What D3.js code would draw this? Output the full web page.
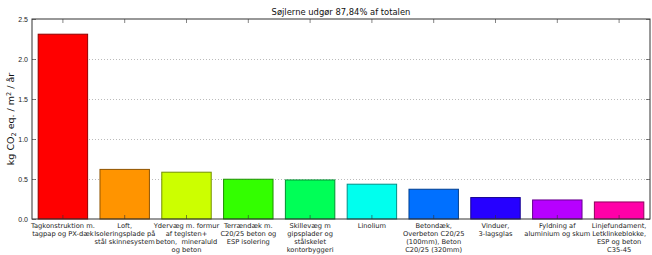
<!DOCTYPE html>
<html>
<head>
<meta charset="utf-8">
<script src="https://cdn.jsdelivr.net/npm/d3@7"></script>
<style>
body { margin: 0; background: #fff; }
svg { font-family: "DejaVu Sans", sans-serif; }
</style>
</head>
<body>
<div id="chart"></div>
<script>
// data
const categories = [
    ["Tagkonstruktion m.", "tagpap og PX-dæk"],
    ["Loft,", "Isoleringsplade på", "stål skinnesystem"],
    ["Ydervæg m. formur", "af teglsten+", "beton,  mineraluld", "og beton"],
    ["Terrændæk m.", "C20/25 beton og", "ESP isolering"],
    ["Skillevæg m", "gipsplader og", "stålskelet", "kontorbyggeri"],
    ["Linolium"],
    ["Betondæk,", "Overbeton C20/25", "(100mm), Beton", "C20/25 (320mm)"],
    ["Vinduer,", "3-lagsglas"],
    ["Fyldning af", "aluminium og skum"],
    ["Linjefundament,", "Letklinkeblokke,", "ESP og beton", "C35-45"]
]
const values = [2.31, 0.62, 0.585, 0.497, 0.488, 0.435, 0.372, 0.268, 0.238, 0.213]
const colors = ["#ff0000", "#ff9400", "#ccff00", "#33ff00", "#00ff57", "#00ffee", "#0070ff", "#2600ff", "#b700ff", "#ff00a8"]
const yTicks = [0, 0.5, 1.0, 1.5, 2.0, 2.5]
const title = "Søjlerne udgør 87,84% af totalen"

const W = 652, H = 255
const margin = { left: 32, top: 19, right: 2, bottom: 36 }
const width = W - margin.left - margin.right,
    height = H - margin.top - margin.bottom

const svg = d3.select("#chart").append("svg")
    .attr("width", W)
    .attr("height", H)

const g = svg.append("g")
    .attr("transform", "translate(" + margin.left + "," + margin.top + ")")

const x = d3.scaleBand()
    .domain(d3.range(values.length))
    .range([0, width])
    .paddingInner(0.2)
    .paddingOuter(0.1)

const y = d3.scaleLinear()
    .domain([0, 2.5])
    .range([height, 0])

// dotted grid
g.selectAll("line.grid")
    .data(yTicks.filter(t => t > 0 && t < 2.5))
    .enter().append("line")
    .attr("class", "grid")
    .attr("x1", 0).attr("x2", width)
    .attr("y1", d => y(d) + 0.5).attr("y2", d => y(d) + 0.5)
    .style("stroke", "#aaa")
    .style("stroke-width", 0.8)
    .style("stroke-dasharray", "1,2")

// bars
g.selectAll("rect.bar")
    .data(values)
    .enter().append("rect")
    .attr("class", "bar")
    .attr("x", (d, i) => x(i))
    .attr("y", d => y(d))
    .attr("width", x.bandwidth())
    .attr("height", d => height - y(d))
    .style("fill", (d, i) => colors[i])
    .style("stroke", (d, i) => d3.color(colors[i]).darker(1.6))
    .style("stroke-width", 1)

// y axis left + right, ticks inward
const yAxis = g.append("g")
    .call(d3.axisLeft(y).tickValues(yTicks).tickFormat(d3.format(".1f")).tickSizeInner(-4).tickSizeOuter(0).tickPadding(4))
yAxis.select(".domain").remove()
yAxis.selectAll("text").style("font-size", "7px").style("fill", "#222")

const yAxisR = g.append("g")
    .attr("transform", "translate(" + width + ",0)")
    .call(d3.axisRight(y).tickValues(yTicks).tickSizeInner(-4).tickSizeOuter(0).tickFormat(""))
yAxisR.select(".domain").remove()

// x ticks top and bottom, inward
const xb = g.append("g")
    .attr("transform", "translate(0," + height + ")")
    .call(d3.axisBottom(x).tickSizeInner(-4).tickSizeOuter(0).tickFormat(""))
xb.select(".domain").remove()
const xt = g.append("g")
    .call(d3.axisTop(x).tickSizeInner(-4).tickSizeOuter(0).tickFormat(""))
xt.select(".domain").remove()
g.selectAll(".tick line").style("stroke", "#333").style("stroke-width", 0.6)

// frame
g.append("rect")
    .attr("x", 0).attr("y", 0)
    .attr("width", width).attr("height", height)
    .style("fill", "none")
    .style("stroke", "#333")
    .style("stroke-width", 1)

// category labels
const labels = g.selectAll("text.cat")
    .data(categories)
    .enter().append("text")
    .attr("class", "cat")
    .attr("text-anchor", "middle")
    .attr("transform", (d, i) => "translate(" + (x(i) + x.bandwidth() / 2) + "," + (height + 9) + ")")
    .style("font-size", "6.7px")
    .style("fill", "#222")
labels.selectAll("tspan")
    .data(d => d)
    .enter().append("tspan")
    .attr("x", 0)
    .attr("y", (d, i) => i * 8)
    .style("white-space", "pre")
    .text(d => d)

// title
svg.append("text")
    .attr("x", margin.left + width / 2)
    .attr("y", 15)
    .attr("text-anchor", "middle")
    .style("font-size", "8.4px")
    .style("fill", "#111")
    .text(title)

// y label
const yl = svg.append("text")
    .attr("transform", "translate(14," + (margin.top + height / 2) + ") rotate(-90)")
    .attr("text-anchor", "middle")
    .style("font-size", "9.5px")
    .style("fill", "#111")
yl.append("tspan").text("kg CO")
yl.append("tspan").attr("dy", 2).style("font-size", "6.5px").text("2")
yl.append("tspan").attr("dy", -2).text(" eq. / m")
yl.append("tspan").attr("dy", -3).style("font-size", "6.5px").text("2")
yl.append("tspan").attr("dy", 3).text(" / år")
</script>
</body>
</html>
